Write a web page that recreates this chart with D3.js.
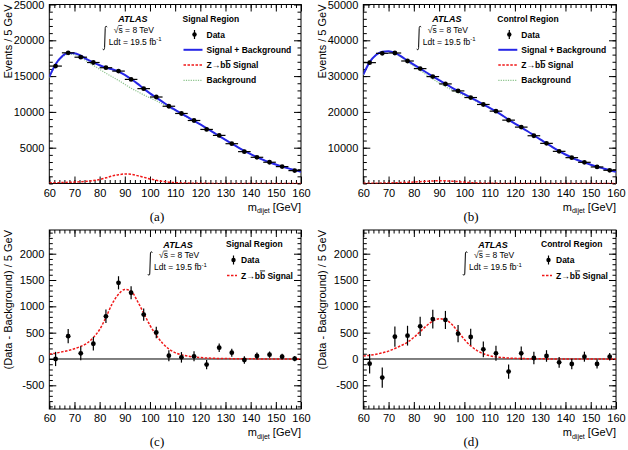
<!DOCTYPE html>
<html>
<head>
<meta charset="utf-8">
<script src="https://cdn.jsdelivr.net/npm/d3@7"></script>
<style>
body { margin: 0; background: #fff; }
text { font-family: "Liberation Sans", Arial, sans-serif; }
</style>
</head>
<body>
<div id="chart"></div>
<script>
// four panels: mass spectrum and background-subtracted spectrum, signal and control region

const width = 628;
const height = 450;

// bin centres of the data (5 GeV bins)
const binCenters = [62.5, 67.5, 72.5, 77.5, 82.5, 87.5, 92.5, 97.5, 102.5, 107.5,
                    112.5, 117.5, 122.5, 127.5, 132.5, 137.5, 142.5, 147.5, 152.5, 157.5];

// events / 5 GeV
const dataSR = [16400, 18250, 17640, 16900, 16170, 15700, 14540, 13250, 12080, 10790,
                9780, 8800, 7550, 6720, 5560, 4450, 3660, 2970, 2360, 1800];
const dataCR = [33760, 36360, 36450, 34220, 32090, 29860, 27820, 25870, 24010, 22070,
                20210, 17700, 15750, 13340, 11210, 8980, 7220, 5920, 4620, 3690];

// data - background
const diffSR = [0, 434, 107, 289, 811, 1447, 1258, 843, 503, 63,
                31, 50, -107, 214, 119, -19, 57, 82, 44, 6];
const errSR  = [135, 135, 133, 130, 127, 125, 122, 115, 110, 105,
                100, 95, 88, 82, 75, 70, 65, 60, 55, 50];
const diffCR = [-89, -354, 424, 443, 620, 759, 741, 481, 418, 184,
                108, -240, 108, 19, 57, -63, -95, 44, -95, 44];
const errCR  = [185, 192, 192, 188, 182, 178, 172, 165, 158, 150,
                143, 135, 127, 118, 110, 102, 100, 95, 85, 72];

// fitted curves sampled every 2.5 GeV
const fitX = [60, 62.5, 65, 67.5, 70, 72.5, 75, 77.5, 80, 82.5, 85, 87.5, 90, 92.5, 95, 97.5,
              100, 102.5, 105, 107.5, 110, 112.5, 115, 117.5, 120, 122.5, 125, 127.5, 130,
              132.5, 135, 137.5, 140, 142.5, 145, 147.5, 150, 152.5, 155, 157.5, 160];
const sigSR = [90, 110, 135, 160, 195, 240, 300, 410, 560, 790, 1050, 1230, 1320, 1290, 1100, 870,
               640, 450, 300, 190, 120, 80, 55, 38, 27, 19, 14, 10, 8,
               6, 5, 4, 3, 2, 2, 1, 1, 1, 0, 0, 0];
const bkgSR = [14800, 16550, 17600, 18050, 18000, 17600, 17050, 16500, 15950, 15400, 14900, 14400, 13850, 13300, 12850, 12380,
               11950, 11550, 11100, 10620, 10160, 9680, 9200, 8720, 8230, 7700, 7170, 6620, 6090,
               5560, 5050, 4560, 4100, 3680, 3300, 2960, 2650, 2370, 2110, 1870, 1640];
const totSR = [14890, 16660, 17735, 18210, 18195, 17840, 17350, 16910, 16510, 16190, 15950, 15630, 15170, 14590, 13950, 13250,
               12590, 12000, 11400, 10810, 10280, 9760, 9255, 8758, 8257, 7719, 7184, 6630, 6098,
               5566, 5055, 4564, 4103, 3682, 3302, 2961, 2651, 2371, 2110, 1870, 1640];
const sigCR = [55, 70, 90, 115, 150, 200, 255, 320, 410, 520, 630, 720, 765, 745, 660, 520,
               370, 250, 160, 100, 62, 40, 27, 18, 12, 9, 6, 4, 3,
               2, 2, 1, 1, 1, 0, 0, 0, 0, 0, 0, 0];
const bkgCR = [30345, 33830, 35810, 36685, 36800, 36300, 35245, 33980, 32790, 31580, 30370, 29180, 28085, 27055, 26140, 25330,
               24580, 23750, 22890, 22000, 21088, 20110, 19023, 17832, 16738, 15691, 14594, 13446, 12297,
               11198, 10098, 9049, 8099, 7249, 6500, 5850, 5250, 4700, 4200, 3700, 3250];
const totCR = [30400, 33900, 35900, 36800, 36950, 36500, 35500, 34300, 33200, 32100, 31000, 29900, 28850, 27800, 26800, 25850,
               24950, 24000, 23050, 22100, 21150, 20150, 19050, 17850, 16750, 15700, 14600, 13450, 12300,
               11200, 10100, 9050, 8100, 7250, 6500, 5850, 5250, 4700, 4200, 3700, 3250];

const xTicks = [60, 70, 80, 90, 100, 110, 120, 130, 140, 150, 160];

const blue = "#2626e6";
const red = "#f01818";
const green = "#8cc48c";

const svg = d3.select("#chart")
  .append("svg")
  .attr("width", width)
  .attr("height", height);

function zip(xs, ys) { return xs.map((x, i) => [x, ys[i]]); }

function drawPanel(p) {
  const x = d3.scaleLinear().domain([60, 160]).range([p.left, p.right]);
  const y = d3.scaleLinear().domain(p.yDomain).range([p.bottom, p.top]);
  const g = svg.append("g");

  const clipId = "clip-" + p.tag;
  g.append("clipPath").attr("id", clipId)
    .append("rect")
    .attr("x", p.left).attr("y", p.top)
    .attr("width", p.right - p.left).attr("height", p.bottom - p.top);

  // ticks, all pointing inwards like ROOT
  const yMinor = d3.range(p.yDomain[0] - p.yDomain[0] % p.yMinor, p.yDomain[1], p.yMinor)
    .filter(v => v >= p.yDomain[0]);
  const xMinor = d3.range(60, 161, 2);
  const axes = [
    [d3.axisBottom(x).tickValues(xTicks).tickSize(-7).tickPadding(5.5).tickFormat(d => String(d)), `translate(0,${p.bottom})`, true],
    [d3.axisBottom(x).tickValues(xMinor).tickSize(-3.5).tickFormat(""), `translate(0,${p.bottom})`],
    [d3.axisTop(x).tickValues(xTicks).tickSize(-7).tickFormat(""), `translate(0,${p.top})`],
    [d3.axisTop(x).tickValues(xMinor).tickSize(-3.5).tickFormat(""), `translate(0,${p.top})`],
    [d3.axisLeft(y).tickValues(p.yTicks).tickSize(-7).tickPadding(5).tickFormat(d => String(d)), `translate(${p.left},0)`, true],
    [d3.axisLeft(y).tickValues(yMinor).tickSize(-3.5).tickFormat(""), `translate(${p.left},0)`],
    [d3.axisRight(y).tickValues(p.yTicks).tickSize(-7).tickFormat(""), `translate(${p.right},0)`],
    [d3.axisRight(y).tickValues(yMinor).tickSize(-3.5).tickFormat(""), `translate(${p.right},0)`]
  ];
  axes.forEach(([ax, tr, labels]) => {
    const a = g.append("g").attr("transform", tr).call(ax);
    a.select(".domain").remove();
    a.selectAll("line").attr("stroke", "#000").attr("stroke-width", 1);
    a.selectAll("text").attr("font-size", "11px").attr("fill", "#000")
      .style("font-family", '"Liberation Sans", Arial, sans-serif');
    if (!labels) a.selectAll("text").remove();
  });

  // frame
  g.append("rect")
    .attr("x", p.left).attr("y", p.top)
    .attr("width", p.right - p.left).attr("height", p.bottom - p.top)
    .attr("fill", "none").attr("stroke", "#000").attr("stroke-width", 1);

  if (p.zeroLine) {
    g.append("line")
      .attr("x1", p.left).attr("x2", p.right)
      .attr("y1", y(0)).attr("y2", y(0))
      .attr("stroke", "#000").attr("stroke-width", 1);
  }

  const line = d3.line().x(d => x(d[0])).y(d => y(d[1])).curve(d3.curveMonotoneX);
  const curves = g.append("g").attr("clip-path", `url(#${clipId})`);
  if (p.bkg) {
    curves.append("path").datum(zip(fitX, p.bkg))
      .attr("d", line).attr("fill", "none")
      .attr("stroke", green).attr("stroke-width", 1.2).attr("stroke-dasharray", "1.2,1.2");
  }
  curves.append("path").datum(zip(fitX, p.sig))
    .attr("d", line).attr("fill", "none")
    .attr("stroke", red).attr("stroke-width", 1.5).attr("stroke-dasharray", "2.5,1.5");
  if (p.tot) {
    curves.append("path").datum(zip(fitX, p.tot))
      .attr("d", line).attr("fill", "none")
      .attr("stroke", blue).attr("stroke-width", 2);
  }

  // data points with error bars
  const pts = g.append("g");
  binCenters.forEach((c, i) => {
    const v = p.data[i], e = p.err[i];
    pts.append("line")
      .attr("x1", x(c)).attr("x2", x(c))
      .attr("y1", y(v - e)).attr("y2", y(v + e))
      .attr("stroke", "#000").attr("stroke-width", 1.2);
    if (p.xErr) {
      pts.append("line")
        .attr("x1", x(c - 2.5)).attr("x2", x(c + 2.5))
        .attr("y1", y(v)).attr("y2", y(v))
        .attr("stroke", "#000").attr("stroke-width", 1.2);
    }
    pts.append("circle")
      .attr("cx", x(c)).attr("cy", y(v)).attr("r", 2.4).attr("fill", "#000");
  });

  // axis titles
  const xt = g.append("text")
    .attr("x", p.right).attr("y", p.bottom + 27)
    .attr("text-anchor", "end").attr("font-size", "11px");
  xt.append("tspan").text("m");
  xt.append("tspan").attr("font-size", "7px").attr("dy", 2.5).text("dijet");
  xt.append("tspan").attr("dy", -2.5).text(" [GeV]");

  g.append("text")
    .attr("transform", `translate(${p.left - 37},${p.top}) rotate(-90)`)
    .attr("text-anchor", "end").attr("font-size", "11px")
    .text(p.yTitle);

  g.append("text")
    .attr("x", p.caption).attr("y", p.bottom + 37)
    .attr("text-anchor", "middle").attr("font-size", "13px")
    .style("font-family", '"Liberation Serif", "Times New Roman", serif')
    .text(p.label);

  // ATLAS label
  const ax0 = p.left + p.atlasX;
  g.append("text")
    .attr("x", ax0).attr("y", p.top + 17.5)
    .attr("text-anchor", "middle").attr("font-size", "9px")
    .attr("font-weight", "bold").attr("font-style", "italic")
    .text("ATLAS");
  const rs = g.append("text")
    .attr("x", ax0 - 19).attr("y", p.top + 28).attr("font-size", "8.5px");
  rs.append("tspan").text("\u221As");
  rs.append("tspan").text(" = 8 TeV");
  g.append("line")
    .attr("x1", ax0 - 14.5).attr("x2", ax0 - 10.5)
    .attr("y1", p.top + 21).attr("y2", p.top + 21)
    .attr("stroke", "#000").attr("stroke-width", 0.7);
  // integral sign drawn as a thin stroke
  const ix = ax0 - 30, iy0 = p.top + 21.5, iy1 = p.top + 45.5;
  g.append("path")
    .attr("d", `M${ix + 4.2},${iy0 + 1.2} C${ix + 3.6},${iy0 - 0.4} ${ix + 2.4},${iy0} ${ix + 2.4},${iy0 + 2.5}
                L${ix + 1.8},${iy1 - 2.5} C${ix + 1.8},${iy1} ${ix + 0.6},${iy1 + 0.4} ${ix},${iy1 - 1.2}`)
    .attr("fill", "none").attr("stroke", "#000").attr("stroke-width", 1);
  const ld = g.append("text")
    .attr("x", ax0 - 24).attr("y", p.top + 40).attr("font-size", "8.5px");
  ld.append("tspan").text("Ldt = 19.5 fb");
  ld.append("tspan").attr("font-size", "6px").attr("dy", -3.5).text("-1");

  // legend
  const lx = p.left + p.legX;
  const leg = g.append("g").attr("font-size", "8.5px").attr("font-weight", "bold");
  leg.append("text").attr("x", lx).attr("y", p.top + 17).text(p.region);
  p.legend.forEach((item, k) => {
    const yy = p.top + 30 + k * p.legStep;
    const tx = leg.append("text").attr("x", lx + p.legText).attr("y", yy + 3);
    if (item.kind === "data") {
      const mx = lx + (p.legText - 2) / 2 + 1;
      leg.append("line").attr("x1", mx).attr("x2", mx).attr("y1", yy - 4.5).attr("y2", yy + 4.5)
        .attr("stroke", "#000").attr("stroke-width", 1.2);
      leg.append("circle").attr("cx", mx).attr("cy", yy).attr("r", 2.2).attr("fill", "#000");
      tx.text("Data");
    } else {
      const st = { tot: [blue, 2, null], sig: [red, 1.5, "2.5,1.5"], bkg: [green, 1.2, "1.2,1.2"] }[item.kind];
      leg.append("line").attr("x1", lx + 1).attr("x2", lx + p.legText - 4)
        .attr("y1", yy).attr("y2", yy)
        .attr("stroke", st[0]).attr("stroke-width", st[1]).attr("stroke-dasharray", st[2]);
      if (item.kind === "sig") {
        tx.append("tspan").text("Z\u2192b");
        tx.append("tspan").style("text-decoration", "overline").text("b");
        tx.append("tspan").text(" Signal");
      } else {
        tx.text(item.text);
      }
    }
  });
}

const fullLegend = [
  { kind: "data" },
  { kind: "tot", text: "Signal + Background" },
  { kind: "sig" },
  { kind: "bkg", text: "Background" }
];
const diffLegend = [{ kind: "data" }, { kind: "sig" }];

drawPanel({
  tag: "a", left: 49.3, right: 301, top: 4.5, bottom: 183.5,
  yDomain: [0, 25000], yTicks: [5000, 10000, 15000, 20000, 25000], yMinor: 1000,
  data: dataSR, err: errSR, xErr: true, sig: sigSR, bkg: bkgSR, tot: totSR,
  yTitle: "Events / 5 GeV", label: "(a)", caption: 157,
  atlasX: 83.5, legX: 133.2, legText: 24, legStep: 15.3, region: "Signal Region", legend: fullLegend
});
drawPanel({
  tag: "b", left: 363.3, right: 616, top: 4.5, bottom: 183.5,
  yDomain: [0, 50000], yTicks: [10000, 20000, 30000, 40000, 50000], yMinor: 2000,
  data: dataCR, err: errCR, xErr: true, sig: sigCR, bkg: bkgCR, tot: totCR,
  yTitle: "Events / 5 GeV", label: "(b)", caption: 471,
  atlasX: 83.5, legX: 134, legText: 24, legStep: 15.3, region: "Control Region", legend: fullLegend
});
drawPanel({
  tag: "c", left: 49.3, right: 301, top: 230, bottom: 409,
  yDomain: [-950, 2450], yTicks: [-500, 0, 500, 1000, 1500, 2000], yMinor: 100,
  data: diffSR, err: errSR, xErr: false, sig: sigSR, zeroLine: true,
  yTitle: "(Data - Background) / 5 GeV", label: "(c)", caption: 157,
  atlasX: 128.7, legX: 176.7, legText: 15, legStep: 15.5, region: "Signal Region", legend: diffLegend
});
drawPanel({
  tag: "d", left: 363.3, right: 616, top: 230, bottom: 409,
  yDomain: [-950, 2450], yTicks: [-500, 0, 500, 1000, 1500, 2000], yMinor: 100,
  data: diffCR, err: errCR, xErr: false, sig: sigCR, zeroLine: true,
  yTitle: "(Data - Background) / 5 GeV", label: "(d)", caption: 471,
  atlasX: 129.7, legX: 177.7, legText: 15, legStep: 15.5, region: "Control Region", legend: diffLegend
});
</script>
</body>
</html>
